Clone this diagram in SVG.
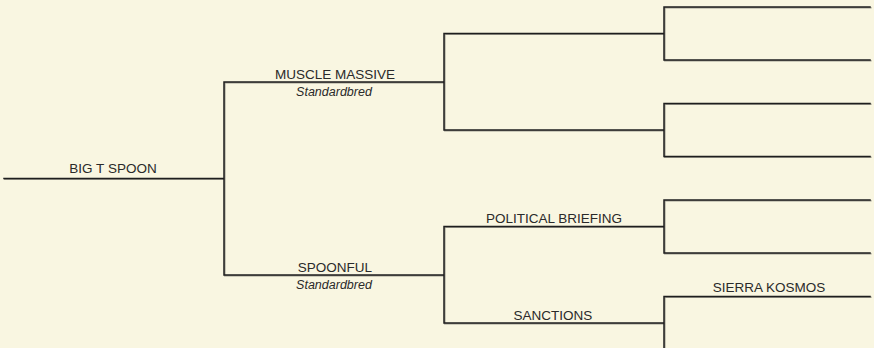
<svg xmlns="http://www.w3.org/2000/svg" width="874" height="348" viewBox="0 0 874 348">
<defs>
<style>
.bg{fill:#f9f6e1}
.ln{fill:none;stroke-linecap:square;stroke-linejoin:miter}
.sh{stroke:#a09e92;stroke-width:1.5}
.mn{stroke:#1e1e1e;stroke-width:1.5}
.nm{font-family:"Liberation Sans",Arial,sans-serif;font-size:13.5px;fill:#2a2a2a;text-anchor:middle}
.br{font-family:"Liberation Sans",Arial,sans-serif;font-size:12.5px;font-style:italic;fill:#2a2a2a;text-anchor:middle}
</style>
<g id="lines">
<path d="M4 178.5H224M224 82V275M224 82H444M224 275H444M444 33.5V130M444 226.5V323M444 33.5H664M444 130H664M444 226.5H664M444 323H664M664 7V60M664 103.5V156.5M664 200V253M664 296.5V349M664 7H870M664 60H870M664 103.5H870M664 156.5H870M664 200H870M664 253H870M664 296.5H870"/>
</g>
</defs>
<rect class="bg" x="0" y="0" width="874" height="348"/>
<g id="connectors">
<use href="#lines" class="ln sh" transform="translate(0.8,0.8)"/>
<use href="#lines" class="ln mn"/>
</g>
<g id="node-big-t-spoon"><text class="nm" x="113" y="173">BIG T SPOON</text></g>
<g id="node-muscle-massive"><text class="nm" x="335" y="78.5">MUSCLE MASSIVE</text><text class="br" x="334" y="96">Standardbred</text></g>
<g id="node-spoonful"><text class="nm" x="335" y="271.5">SPOONFUL</text><text class="br" x="334" y="289">Standardbred</text></g>
<g id="node-political-briefing"><text class="nm" x="554" y="222.5">POLITICAL BRIEFING</text></g>
<g id="node-sanctions"><text class="nm" x="553" y="319.5">SANCTIONS</text></g>
<g id="node-sierra-kosmos"><text class="nm" x="769" y="292">SIERRA KOSMOS</text></g>
</svg>
